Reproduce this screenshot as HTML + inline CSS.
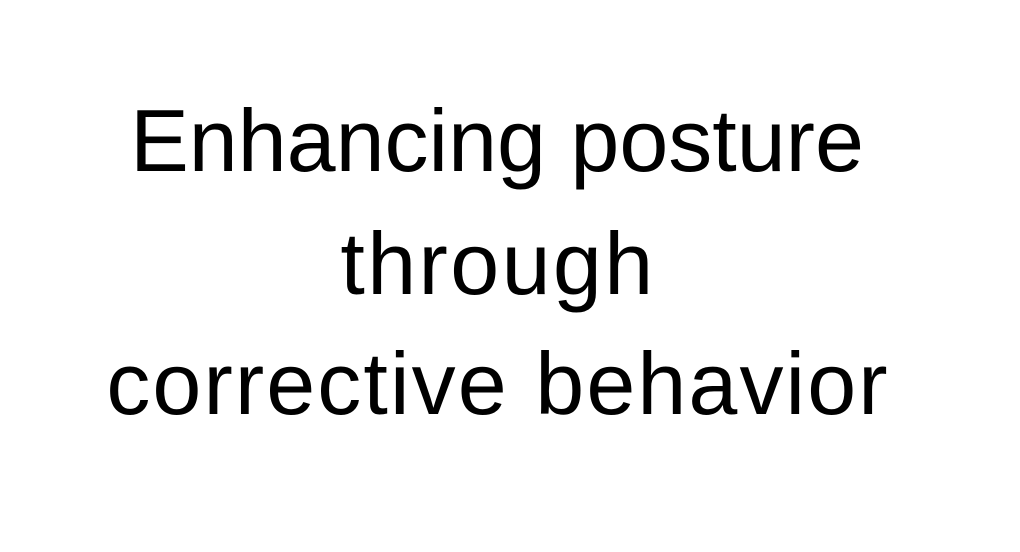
<!DOCTYPE html>
<html>
<head>
<meta charset="utf-8">
<style>
  html,body{margin:0;padding:0;background:#fff;}
  body{width:1020px;height:552px;position:relative;overflow:hidden;}
  .line{position:absolute;left:-13px;width:1020px;text-align:center;
    font-family:"Liberation Sans",sans-serif;font-size:88px;line-height:88px;color:#000;white-space:nowrap;}
</style>
</head>
<body>
  <div>
    <div class="line" style="top:97px">Enhancing posture</div>
    <div class="line" style="top:220px;letter-spacing:2.4px;left:-12px">through</div>
    <div class="line" style="top:340px;letter-spacing:2.1px;left:-12px">corrective behavior</div>
  </div>
</body>
</html>
